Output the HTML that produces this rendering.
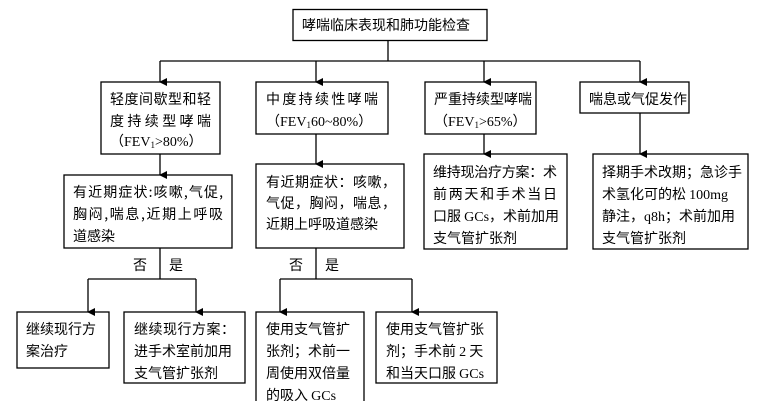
<!DOCTYPE html>
<html><head><meta charset="utf-8"><style>
html,body{margin:0;padding:0;background:#fff;}
svg{display:block}
text{font-family:"Liberation Serif","Noto Sans CJK SC",sans-serif;font-size:14px;fill:#000}
.s{font-family:"Noto Sans CJK SC","WenQuanYi Zen Hei",sans-serif}
</style></head><body>
<svg width="762" height="401" viewBox="0 0 762 401" xmlns="http://www.w3.org/2000/svg">
<defs><marker id="a" markerWidth="8" markerHeight="8" refX="4" refY="7" orient="auto" markerUnits="userSpaceOnUse"><path d="M0,0 L8,0 L4,8 z" fill="#000"/></marker></defs>
<g fill="none" stroke="#000" stroke-width="1.3">
<rect x="293" y="9.5" width="194" height="31"/>
<rect x="101" y="82" width="119" height="72"/>
<rect x="256" y="82" width="132" height="52"/>
<rect x="425" y="82" width="111" height="52"/>
<rect x="580" y="82" width="109" height="31"/>
<rect x="64" y="175" width="168" height="73"/>
<rect x="256" y="164" width="148" height="84"/>
<rect x="424" y="154" width="143" height="95"/>
<rect x="593" y="154" width="155" height="95"/>
<rect x="17" y="312" width="92" height="56"/>
<rect x="124" y="312" width="121" height="71"/>
<rect x="256" y="312" width="108" height="95"/>
<rect x="376" y="312" width="121" height="71"/>
<path d="M388,40 V61 M160,61 H640"/>
<path d="M160,61 V82" marker-end="url(#a)"/>
<path d="M316,61 V82" marker-end="url(#a)"/>
<path d="M484,61 V82" marker-end="url(#a)"/>
<path d="M640,61 V82" marker-end="url(#a)"/>
<path d="M160,154 V175" marker-end="url(#a)"/>
<path d="M316,134 V164" marker-end="url(#a)"/>
<path d="M484,134 V154" marker-end="url(#a)"/>
<path d="M640,113 V154" marker-end="url(#a)"/>
<path d="M160,248 V279 M88,279 H196 M316,248 V279 M280,279 H412"/>
<path d="M88,279 V312" marker-end="url(#a)"/>
<path d="M196,279 V312" marker-end="url(#a)"/>
<path d="M280,279 V312" marker-end="url(#a)"/>
<path d="M412,279 V312" marker-end="url(#a)"/>
</g>
<text class="s" x="302" y="30">哮喘临床表现和肺功能检查</text>
<text class="s" x="110" y="104" textLength="101">轻度间歇型和轻</text>
<text class="s" x="110" y="126" textLength="101">度持续型哮喘</text>
<text x="110" y="146">（FEV<tspan font-size="9" dy="2">1</tspan><tspan dy="-2">&gt;80%）</tspan></text>
<text class="s" x="266" y="104" textLength="112">中度持续性哮喘</text>
<text x="266" y="126">（FEV<tspan font-size="9" dy="2">1</tspan><tspan dy="-2">60~80%）</tspan></text>
<text class="s" x="434" y="104">严重持续型哮喘</text>
<text x="434" y="126">（FEV<tspan font-size="9" dy="2">1</tspan><tspan dy="-2">&gt;65%）</tspan></text>
<text class="s" x="589" y="104">喘息或气促发作</text>
<text class="s" x="73" y="197" textLength="150">有近期症状:咳嗽,气促,</text>
<text class="s" x="73" y="219" textLength="150">胸闷,喘息,近期上呼吸</text>
<text class="s" x="73" y="241">道感染</text>
<text class="s" x="266" y="187" textLength="130">有近期症状：咳嗽，</text>
<text class="s" x="266" y="208" textLength="130">气促，胸闷，喘息，</text>
<text class="s" x="266" y="229">近期上呼吸道感染</text>
<text class="s" x="433" y="177" textLength="124">维持现治疗方案：术</text>
<text class="s" x="433" y="199" textLength="124">前两天和手术当日</text>
<text class="s" x="433" y="221">口服 <tspan font-family="Liberation Serif">GCs</tspan>，术前加用</text>
<text class="s" x="433" y="243">支气管扩张剂</text>
<text class="s" x="602" y="177" textLength="140">择期手术改期；急诊手</text>
<text class="s" x="602" y="199">术氢化可的松 <tspan font-family="Liberation Serif">100mg</tspan></text>
<text class="s" x="602" y="221">静注，<tspan font-family="Liberation Serif">q8h</tspan>；术前加用</text>
<text class="s" x="602" y="243">支气管扩张剂</text>
<text class="s" x="133" y="270">否</text>
<text class="s" x="169" y="270">是</text>
<text class="s" x="289" y="270">否</text>
<text class="s" x="325" y="270">是</text>
<text class="s" x="26" y="334">继续现行方</text>
<text class="s" x="26" y="356">案治疗</text>
<text class="s" x="134" y="334" textLength="101">继续现行方案：</text>
<text class="s" x="134" y="356">进手术室前加用</text>
<text class="s" x="134" y="378">支气管扩张剂</text>
<text class="s" x="266" y="334">使用支气管扩</text>
<text class="s" x="266" y="356">张剂；术前一</text>
<text class="s" x="266" y="378">周使用双倍量</text>
<text class="s" x="266" y="400">的吸入 <tspan font-family="Liberation Serif">GCs</tspan></text>
<text class="s" x="386" y="334">使用支气管扩张</text>
<text class="s" x="386" y="356">剂；手术前 <tspan font-family="Liberation Serif">2</tspan> 天</text>
<text class="s" x="386" y="378">和当天口服 <tspan font-family="Liberation Serif">GCs</tspan></text>
</svg>
</body></html>
